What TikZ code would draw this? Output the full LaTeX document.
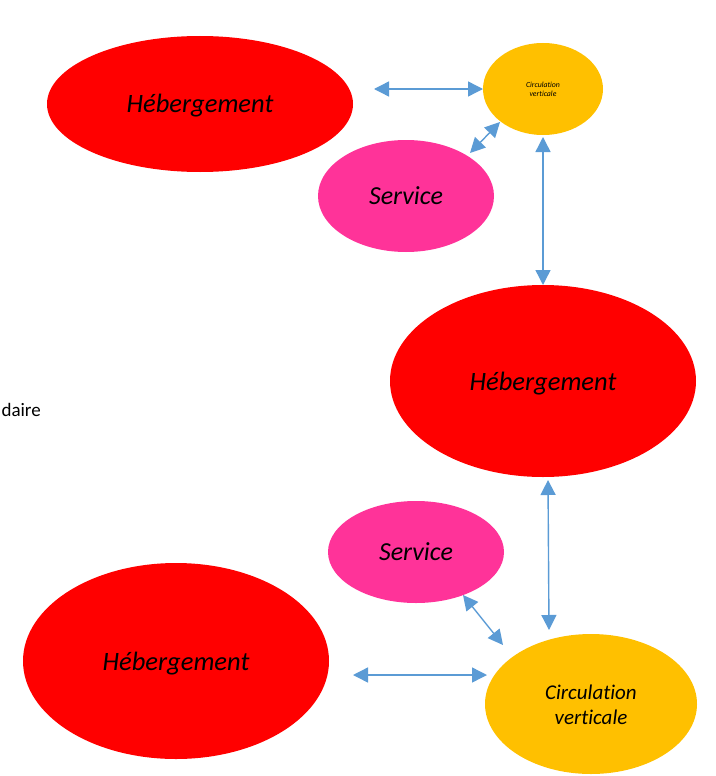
\documentclass[tikz,border=0pt]{standalone}
\usepackage{fontspec}
\setmainfont{Carlito}[Ligatures=NoCommon]
\usetikzlibrary{arrows.meta,shapes.geometric}
\definecolor{hred}{HTML}{FF0000}
\definecolor{spink}{HTML}{FF3399}
\definecolor{corange}{HTML}{FFC000}
\definecolor{arrblue}{HTML}{5B9BD5}
\newcommand\lowr[2]{\raisebox{-#1}[0pt][0pt]{#2}}
\tikzset{
  blob/.style={ellipse, inner sep=0pt, draw=none},
  heb/.style={blob, fill=hred, font=\fontsize{26.5}{30}\selectfont\itshape},
  serv/.style={blob, fill=spink, font=\fontsize{26}{30}\selectfont\itshape},
  circ/.style={blob, fill=corange, align=center},
  link/.style={arrblue, line width=1.4pt, {Triangle[length=15pt,width=15pt]}-{Triangle[length=15pt,width=15pt]}}
}
\begin{document}
\begin{tikzpicture}[x=1pt,y=-1pt]
\useasboundingbox (0,0) rectangle (715,776);
% top group
\node[heb, minimum width=306pt, minimum height=136pt] (h1) at (200,104) {\lowr{8.7pt}{Hébergement}};
\node[circ, minimum width=120pt, minimum height=92pt, font=\fontsize{7.8}{9.5}\selectfont\itshape] (c1) at (543,89) {\lowr{3pt}{Circulation}\\\lowr{3pt}{verticale}};
\node[serv, minimum width=176pt, minimum height=112pt] (s1) at (406,196) {\lowr{8pt}{Service}};
% middle
\node[heb, minimum width=306pt, minimum height=192pt] (h2) at (543,381) {\lowr{9pt}{Hébergement}};
\node[anchor=east, font=\fontsize{19}{22}\selectfont, inner sep=0pt] (dl) at (41,410) {daire};
% bottom group
\node[serv, minimum width=176pt, minimum height=102pt] (s2) at (416,552) {\lowr{8pt}{Service}};
\node[heb, minimum width=306pt, minimum height=196pt] (h3) at (176,661) {\lowr{9pt}{Hébergement}};
\node[circ, minimum width=212pt, minimum height=140pt, font=\fontsize{21}{25}\selectfont\itshape] (c2) at (591,704) {\lowr{7.5pt}{Circulation}\\\lowr{7.5pt}{verticale}};
% arrow ends
\coordinate (a1) at (374,89);
\coordinate (a1e) at (483,89);
\coordinate (a2s) at (470,153);
\coordinate (a2e) at (500,122);
\coordinate (a3s) at (543,137);
\coordinate (a3e) at (543,285);
\coordinate (a4s) at (548,480);
\coordinate (a4e) at (549,630);
\coordinate (a5s) at (463,595);
\coordinate (a5e) at (503,645);
\coordinate (a6s) at (353,675);
\coordinate (a6e) at (487,675);
\draw[link] (a1) -- (a1e);
\draw[link] (a2s) -- (a2e);
\draw[link] (a3s) -- (a3e);
\draw[link] (a4s) -- (a4e);
\draw[link] (a5s) -- (a5e);
\draw[link] (a6s) -- (a6e);
\end{tikzpicture}
\end{document}
